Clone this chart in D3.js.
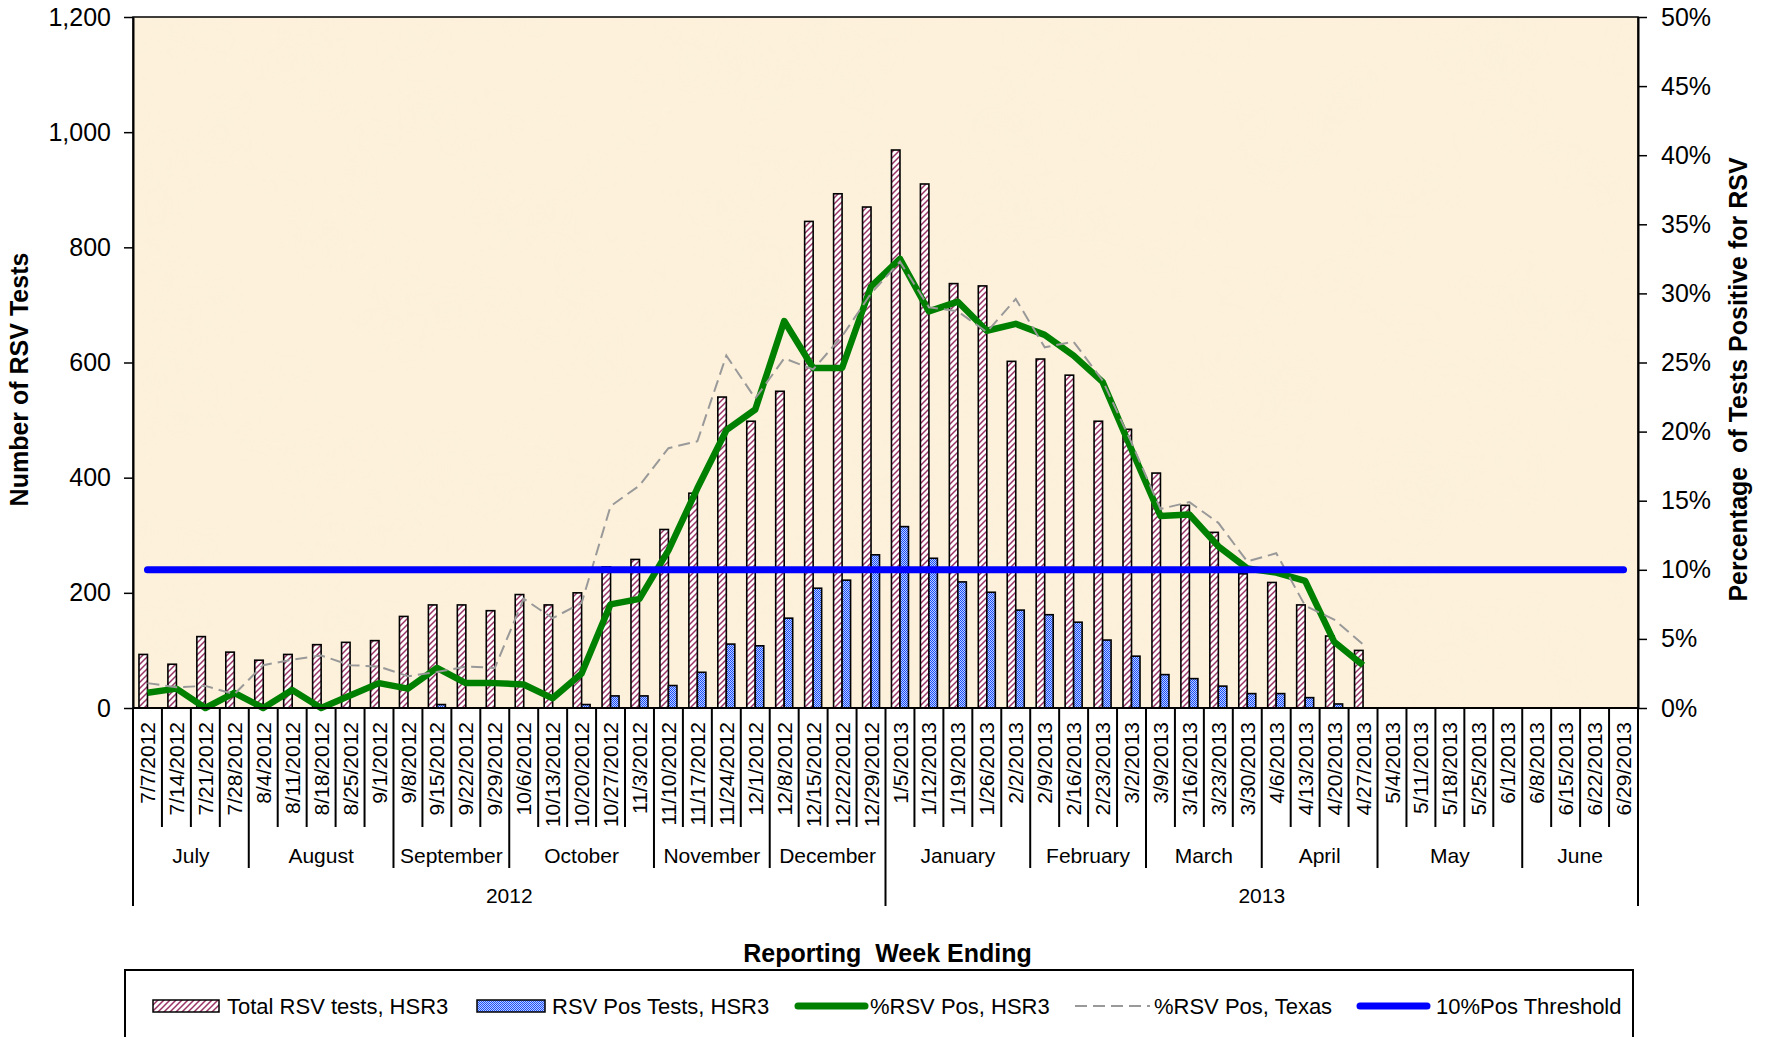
<!DOCTYPE html>
<html>
<head>
<meta charset="utf-8">
<script src="https://d3js.org/d3.v7.min.js"></script>
<style>
  body { margin: 0; background: #fff; }
  text { font-family: "Liberation Sans", Arial, sans-serif; fill: #000; }
</style>
</head>
<body>
<div id="chart"></div>
<script>

// ---- data ----
var weeks = ["7/7/2012","7/14/2012","7/21/2012","7/28/2012","8/4/2012","8/11/2012","8/18/2012","8/25/2012","9/1/2012",
  "9/8/2012","9/15/2012","9/22/2012","9/29/2012","10/6/2012","10/13/2012","10/20/2012","10/27/2012","11/3/2012",
  "11/10/2012","11/17/2012","11/24/2012","12/1/2012","12/8/2012","12/15/2012","12/22/2012","12/29/2012",
  "1/5/2013","1/12/2013","1/19/2013","1/26/2013","2/2/2013","2/9/2013","2/16/2013","2/23/2013","3/2/2013",
  "3/9/2013","3/16/2013","3/23/2013","3/30/2013","4/6/2013","4/13/2013","4/20/2013","4/27/2013",
  "5/4/2013","5/11/2013","5/18/2013","5/25/2013","6/1/2013","6/8/2013","6/15/2013","6/22/2013","6/29/2013"];

var months = ["July","August","September","October","November","December","January","February","March","April","May","June"];
var monthWeeks = [4, 5, 4, 5, 4, 4, 5, 4, 4, 4, 5, 4];
var years = ["2012", "2013"];
var yearWeeks = [26, 26];

var totalTests = [93, 76, 124, 97, 83, 93, 110, 114, 117, 159, 179, 179, 169, 197, 179, 200, 245, 258,
  310, 373, 540, 498, 550, 845, 893, 870, 969, 910, 737, 733, 602, 606, 578, 498, 484, 408, 352, 305,
  233, 218, 179, 125, 100];
var posTests = [0, 0, 0, 0, 0, 0, 0, 0, 0, 0, 6, 0, 0, 0, 0, 6, 21, 21, 39, 62, 111, 108, 156, 208,
  222, 266, 315, 260, 219, 201, 170, 162, 149, 118, 90, 58, 51, 38, 25, 25, 18, 7, 0];
var pctHSR3 = [1.1, 1.4, 0, 1.1, 0, 1.3, 0, 0.9, 1.8, 1.4, 2.9, 1.8, 1.8, 1.7, 0.7, 2.5, 7.5, 7.9,
  11.4, 15.9, 20.1, 21.6, 28.0, 24.6, 24.6, 30.5, 32.5, 28.7, 29.4, 27.3, 27.8, 27.0, 25.5, 23.6,
  18.7, 13.9, 14.0, 11.7, 10.1, 9.8, 9.2, 4.8, 3.1];
var pctTexas = [1.8, 1.5, 1.6, 1.0, 3.1, 3.5, 3.8, 3.1, 3.0, 2.3, 2.6, 3.0, 2.9, 7.9, 6.5, 7.6, 14.6, 16.1,
  18.8, 19.3, 25.5, 22.4, 25.3, 24.5, 26.9, 30.0, 32.3, 29.0, 28.7, 27.2, 29.6, 26.1, 26.5, 23.7,
  19.2, 14.4, 14.9, 13.4, 10.6, 11.2, 7.4, 6.4, 4.6];
var thresholdPct = 10;

var leftTicks = [0, 200, 400, 600, 800, 1000, 1200];
var rightTicks = [0, 5, 10, 15, 20, 25, 30, 35, 40, 45, 50];

var legendLabels = ["Total RSV tests, HSR3", "RSV Pos Tests, HSR3", "%RSV Pos, HSR3", "%RSV Pos, Texas", "10%Pos Threshold"];

// ---- layout ----
var W = 1765, H = 1037;
var margin = {top: 17, right: 127, bottom: 329, left: 133};
var plotW = W - margin.left - margin.right,
    plotH = H - margin.top - margin.bottom;

var svg = d3.select("#chart").append("svg")
  .attr("width", W).attr("height", H);

var defs = svg.append("defs");

// wide upward diagonal (pink) pattern
var pd = defs.append("pattern").attr("id", "diag")
  .attr("patternUnits", "userSpaceOnUse").attr("width", 6).attr("height", 6);
pd.append("rect").attr("width", 6).attr("height", 6).attr("fill", "#fff");
pd.append("path").attr("d", "M0,6 L6,0 M-1,1 L1,-1 M5,7 L7,5")
  .attr("stroke", "#993366").attr("stroke-width", 1.5);

// small checker (blue) pattern
var pc = defs.append("pattern").attr("id", "checker")
  .attr("patternUnits", "userSpaceOnUse").attr("width", 2).attr("height", 2);
pc.append("rect").attr("width", 2).attr("height", 2).attr("fill", "#bcd0ff");
pc.append("rect").attr("width", 1).attr("height", 1).attr("fill", "#1a4cff");
pc.append("rect").attr("x", 1).attr("y", 1).attr("width", 1).attr("height", 1).attr("fill", "#1a4cff");

// parchment mottling
var f = defs.append("filter").attr("id", "paper")
  .attr("x", 0).attr("y", 0).attr("width", 1).attr("height", 1);
f.append("feTurbulence").attr("type", "fractalNoise")
  .attr("baseFrequency", "0.012").attr("numOctaves", 3).attr("seed", 7);
f.append("feColorMatrix").attr("type", "matrix")
  .attr("values", "0 0 0 0 0.93  0 0 0 0 0.86  0 0 0 0 0.70  0.9 0 0 0 -0.40");

var g = svg.append("g")
  .attr("transform", "translate(" + margin.left + "," + margin.top + ")");

var x = d3.scaleBand().domain(weeks).range([0, plotW]).padding(0);
var bw = x.bandwidth();
var xs = d3.scaleBand().domain(["total", "pos"]).range([0, 17]);

var yL = d3.scaleLinear().domain([0, 1200]).range([plotH, 0]);
var yR = d3.scaleLinear().domain([0, 50]).range([plotH, 0]);

// background
g.append("rect").attr("width", plotW).attr("height", plotH).attr("fill", "#fdf1db");
g.append("rect").attr("width", plotW).attr("height", plotH).attr("filter", "url(#paper)").attr("opacity", 0.45);
g.append("rect").attr("width", plotW).attr("height", plotH)
  .attr("fill", "none").attr("stroke", "#000").attr("stroke-width", 1.5);

// bars
var barData = totalTests.map(function(d, i) { return {week: weeks[i], total: d, pos: posTests[i]}; });
var off = (bw - 17) / 2;

g.selectAll(".bar-total").data(barData).enter().append("rect")
  .attr("class", "bar-total")
  .attr("x", function(d) { return x(d.week) + off + xs("total"); })
  .attr("y", function(d) { return yL(d.total); })
  .attr("width", xs.bandwidth())
  .attr("height", function(d) { return plotH - yL(d.total); })
  .attr("fill", "url(#diag)").attr("stroke", "#000").attr("stroke-width", 1.6);

g.selectAll(".bar-pos").data(barData.filter(function(d) { return d.pos > 0; })).enter().append("rect")
  .attr("class", "bar-pos")
  .attr("x", function(d) { return x(d.week) + off + xs("pos"); })
  .attr("y", function(d) { return yL(d.pos); })
  .attr("width", xs.bandwidth())
  .attr("height", function(d) { return plotH - yL(d.pos); })
  .attr("fill", "url(#checker)").attr("stroke", "#000").attr("stroke-width", 1.6);

// lines
var line = d3.line()
  .x(function(d, i) { return x(weeks[i]) + bw / 2; })
  .y(function(d) { return yR(d); });

g.append("path").datum(pctHSR3).attr("d", line)
  .attr("fill", "none").attr("stroke", "#008000").attr("stroke-width", 6.5)
  .attr("stroke-linejoin", "round");

g.append("path").datum(pctTexas).attr("d", line)
  .attr("fill", "none").attr("stroke", "#999").attr("stroke-width", 2)
  .attr("stroke-dasharray", "12,6");

g.append("line")
  .attr("x1", x(weeks[0]) + bw / 2).attr("x2", x(weeks[weeks.length - 1]) + bw / 2)
  .attr("y1", yR(thresholdPct)).attr("y2", yR(thresholdPct))
  .attr("stroke", "#0000ff").attr("stroke-width", 7).attr("stroke-linecap", "round");

// axes
var axL = g.append("g")
  .call(d3.axisLeft(yL).tickValues(leftTicks).tickFormat(d3.format(",")).tickSize(9).tickSizeOuter(0));
var axR = g.append("g").attr("transform", "translate(" + plotW + ",0)")
  .call(d3.axisRight(yR).tickValues(rightTicks).tickFormat(function(d) { return d + "%"; }).tickSize(9).tickSizeOuter(0));
[axL, axR].forEach(function(a) {
  a.select(".domain").attr("stroke", "#000").attr("stroke-width", 2);
  a.selectAll(".tick line").attr("stroke", "#000").attr("stroke-width", 1.5);
  a.selectAll(".tick text").attr("font-size", 25).attr("font-family", null);
});
axL.selectAll(".tick text").attr("x", -22);
axR.selectAll(".tick text").attr("x", 23);

g.append("line").attr("x1", 0).attr("x2", plotW).attr("y1", plotH).attr("y2", plotH)
  .attr("stroke", "#000").attr("stroke-width", 2);

// category box separators
var monthEnds = Array.from(d3.cumsum(monthWeeks)), yearEnds = Array.from(d3.cumsum(yearWeeks));
var bounds = d3.range(weeks.length + 1).map(function(i) {
  var type = (i === 0 || yearEnds.indexOf(i) >= 0) ? "year" : (monthEnds.indexOf(i) >= 0 ? "month" : "week");
  return {x: i < weeks.length ? x(weeks[i]) : x(weeks[i - 1]) + bw, type: type};
});
var sepLen = {week: 119, month: 160, year: 198};
g.selectAll(".sep").data(bounds).enter().append("line")
  .attr("x1", function(d) { return d.x; }).attr("x2", function(d) { return d.x; })
  .attr("y1", plotH).attr("y2", function(d) { return plotH + sepLen[d.type]; })
  .attr("stroke", "#000").attr("stroke-width", 2);

// week labels
g.selectAll(".wk").data(weeks).enter().append("text")
  .attr("transform", function(d) { return "translate(" + (x(d) + bw / 2) + "," + (plotH + 14) + ") rotate(-90)"; })
  .attr("text-anchor", "end").attr("dy", "0.36em")
  .attr("font-size", 21).text(function(d) { return d; });

// month and year labels
var mStart = [0].concat(monthEnds.slice(0, -1));
g.selectAll(".mo").data(months).enter().append("text")
  .attr("x", function(d, i) { return (x(weeks[mStart[i]]) + x(weeks[monthEnds[i] - 1]) + bw) / 2; })
  .attr("y", plotH + 155).attr("text-anchor", "middle")
  .attr("font-size", 21).text(function(d) { return d; });

var yStart = [0].concat(yearEnds.slice(0, -1));
g.selectAll(".yr").data(years).enter().append("text")
  .attr("x", function(d, i) { return (x(weeks[yStart[i]]) + x(weeks[yearEnds[i] - 1]) + bw) / 2; })
  .attr("y", plotH + 195).attr("text-anchor", "middle")
  .attr("font-size", 21).text(function(d) { return d; });

// axis titles
svg.append("text").attr("transform", "translate(19," + (margin.top + plotH / 2 + 17) + ") rotate(-90)")
  .attr("text-anchor", "middle").attr("dy", "0.35em")
  .attr("font-size", 25).attr("font-weight", "bold").text("Number of RSV Tests");

svg.append("text").attr("transform", "translate(1738," + (margin.top + plotH / 2 + 17) + ") rotate(-90)")
  .attr("text-anchor", "middle").attr("dy", "0.35em")
  .attr("font-size", 25).attr("font-weight", "bold").style("white-space", "pre")
  .text("Percentage  of Tests Positive for RSV");

svg.append("text").attr("x", margin.left + plotW / 2 + 2).attr("y", 962)
  .attr("text-anchor", "middle")
  .attr("font-size", 25).attr("font-weight", "bold").style("white-space", "pre")
  .text("Reporting  Week Ending");

// legend
var lg = svg.append("g");
lg.append("rect").attr("x", 125).attr("y", 970).attr("width", 1508).attr("height", 90)
  .attr("fill", "#fff").attr("stroke", "#000").attr("stroke-width", 2);

var legendX = [153, 477, 795, 1075, 1357];
var ly = 1006;
lg.append("rect").attr("x", legendX[0]).attr("y", 1000).attr("width", 66).attr("height", 12)
  .attr("fill", "url(#diag)").attr("stroke", "#000").attr("stroke-width", 1.5);
lg.append("rect").attr("x", legendX[1]).attr("y", 1000).attr("width", 68).attr("height", 12)
  .attr("fill", "url(#checker)").attr("stroke", "#000").attr("stroke-width", 1.5);
lg.append("line").attr("x1", legendX[2] + 3).attr("x2", legendX[2] + 70).attr("y1", ly).attr("y2", ly)
  .attr("stroke", "#008000").attr("stroke-width", 7).attr("stroke-linecap", "round");
lg.append("line").attr("x1", legendX[3]).attr("x2", legendX[3] + 75).attr("y1", ly).attr("y2", ly)
  .attr("stroke", "#999").attr("stroke-width", 2).attr("stroke-dasharray", "12,6");
lg.append("line").attr("x1", legendX[4] + 3).attr("x2", legendX[4] + 70).attr("y1", ly).attr("y2", ly)
  .attr("stroke", "#0000ff").attr("stroke-width", 7).attr("stroke-linecap", "round");

var textX = [227, 552, 870, 1154, 1436];
lg.selectAll(".lt").data(legendLabels).enter().append("text")
  .attr("x", function(d, i) { return textX[i]; }).attr("y", ly).attr("dy", "0.36em")
  .attr("font-size", 22).text(function(d) { return d; });

</script>
</body>
</html>
